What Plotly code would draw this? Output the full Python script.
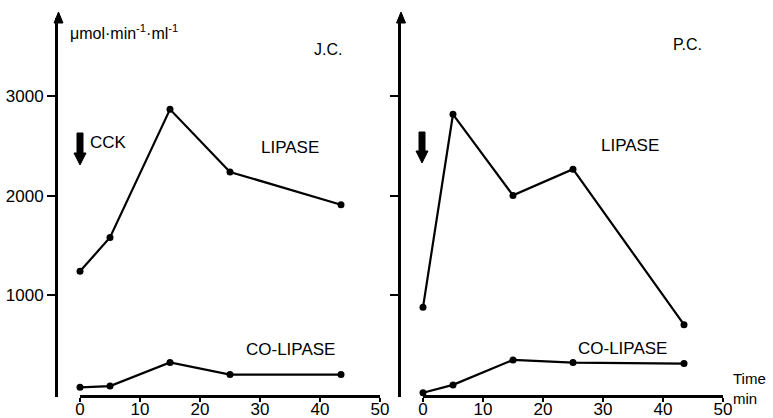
import plotly.graph_objects as go

W, H = 773, 418

# Data
time_jc = [0, 5, 15, 25, 43.5]
lipase_jc = [1240, 1580, 2870, 2240, 1910]
colipase_jc = [72, 85, 323, 201, 201]

time_pc = [0, 5, 15, 25, 43.5]
lipase_pc = [877, 2820, 2004, 2268, 703]
colipase_pc = [18, 97, 348, 321, 311]

x_ticks = [0, 10, 20, 30, 40, 50]
y_ticks = [1000, 2000, 3000]
y_ticklabels = ["1000", "2000", "3000"]

FONT = "Liberation Sans, Arial, sans-serif"


def px(x):
    return x / W


def py(y):
    return 1 - y / H


fig = go.Figure()

line_style = dict(color="black", width=2.2)
marker_style = dict(color="black", size=7)

fig.add_trace(go.Scatter(x=time_jc, y=lipase_jc, mode="lines+markers", line=line_style,
                         marker=marker_style, xaxis="x", yaxis="y", showlegend=False))
fig.add_trace(go.Scatter(x=time_jc, y=colipase_jc, mode="lines+markers", line=line_style,
                         marker=marker_style, xaxis="x", yaxis="y", showlegend=False))
fig.add_trace(go.Scatter(x=time_pc, y=lipase_pc, mode="lines+markers", line=line_style,
                         marker=marker_style, xaxis="x2", yaxis="y2", showlegend=False))
fig.add_trace(go.Scatter(x=time_pc, y=colipase_pc, mode="lines+markers", line=line_style,
                         marker=marker_style, xaxis="x2", yaxis="y2", showlegend=False))

xr = [-3.667, 50.333]
yr = [-25, 3789]
ydom = [py(397), py(18)]

common_x = dict(range=xr, showgrid=False, zeroline=False, showline=False, automargin=False,
                tickmode="array", tickvals=x_ticks, ticks="outside", ticklen=4,
                tickwidth=2, tickcolor="black", ticklabelstandoff=-7,
                tickfont=dict(family=FONT, size=17, color="black"), fixedrange=True)
common_y = dict(range=yr, domain=ydom, showgrid=False, zeroline=False, showline=True,
                automargin=False,
                linecolor="black", linewidth=3, tickmode="array", tickvals=y_ticks,
                ticktext=y_ticklabels, ticks="outside", ticklen=8, tickwidth=2,
                tickcolor="black", tickfont=dict(family=FONT, size=17, color="black"),
                fixedrange=True)

fig.update_layout(
    width=W, height=H,
    margin=dict(l=0, r=0, t=0, b=0, autoexpand=False),
    paper_bgcolor="white", plot_bgcolor="white",
    xaxis=dict(domain=[px(58), px(382)], anchor="y", **common_x),
    yaxis=dict(anchor="x", **common_y),
    xaxis2=dict(domain=[px(401), px(725)], anchor="y2", **common_x),
    yaxis2=dict(anchor="x2", showticklabels=False, **common_y),
)

shapes = []
# x axis lines
shapes.append(dict(type="line", xref="x", yref="paper", x0=0, x1=50, y0=py(396.5), y1=py(396.5),
                   line=dict(color="black", width=3)))
shapes.append(dict(type="line", xref="x2", yref="paper", x0=0, x1=50, y0=py(396.5), y1=py(396.5),
                   line=dict(color="black", width=3)))


def tri_up(cx, top, h=11, hw=4.5):
    return (f"M {px(cx)} {py(top)} L {px(cx - hw)} {py(top + h)} "
            f"L {px(cx + hw)} {py(top + h)} Z")


def down_arrow(cx, top, bottom, sw=3, hw=6, hh=12):
    pts = [(cx - sw, top), (cx + sw, top), (cx + sw, bottom - hh), (cx + hw, bottom - hh),
           (cx, bottom), (cx - hw, bottom - hh), (cx - sw, bottom - hh)]
    d = "M " + " L ".join(f"{px(a)} {py(b)}" for a, b in pts) + " Z"
    return d


for cx in (58.5, 401):
    shapes.append(dict(type="path", xref="paper", yref="paper", path=tri_up(cx, 12),
                       fillcolor="black", line=dict(color="black", width=1)))

shapes.append(dict(type="path", xref="paper", yref="paper", path=down_arrow(80, 133, 165),
                   fillcolor="black", line=dict(color="black", width=1)))
shapes.append(dict(type="path", xref="paper", yref="paper", path=down_arrow(422, 132, 163),
                   fillcolor="black", line=dict(color="black", width=1)))

fig.update_layout(shapes=shapes)


def label(text, x, y, size=16, xanchor="left"):
    fig.add_annotation(text=text, x=px(x), y=py(y), xref="paper", yref="paper",
                       xanchor=xanchor, yanchor="middle", showarrow=False,
                       font=dict(family=FONT, size=size, color="black"))


label("μmol·min<sup>-1</sup>·ml<sup>-1</sup>", 68, 32, size=16)
label("J.C.", 312, 50, size=16)
label("P.C.", 671, 44, size=16)
label("CCK", 88, 142, size=17)
label("LIPASE", 259, 147, size=17)
label("LIPASE", 599, 146, size=17)
label("CO-LIPASE", 244, 349, size=17)
label("CO-LIPASE", 576, 348, size=17)
label("Time", 731, 378, size=15)
label("min", 731, 398, size=15)

fig.write_html("out.html", config={"displayModeBar": False})

# remove default page margins so the figure sits at the window's top-left corner
with open("out.html", "r", encoding="utf-8") as f:
    html = f.read()
html = html.replace("<head>", "<head><style>html,body{margin:0;padding:0;overflow:hidden;}</style>", 1)
with open("out.html", "w", encoding="utf-8") as f:
    f.write(html)
